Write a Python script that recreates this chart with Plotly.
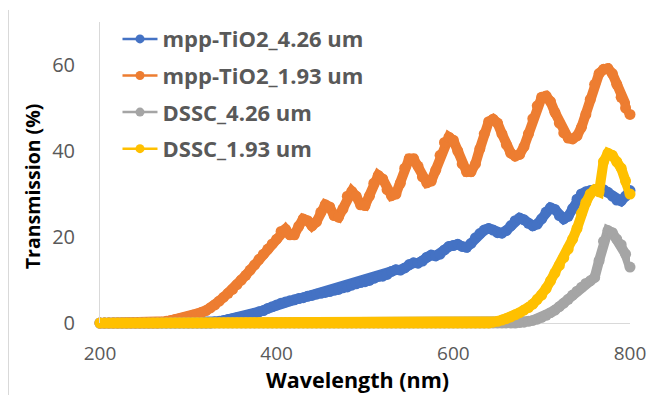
import plotly.graph_objects as go

wavelength = list(range(200, 805, 5))

mpp_tio2_426 = [0.0]*26 + [
    0.3, 0.4, 0.6, 0.8, 1.0, 1.2, 1.4, 1.6, 1.9, 2.2,            # 330-375
    2.6, 2.9, 3.4, 3.8, 4.2, 4.6, 4.9, 5.2, 5.4, 5.7,            # 380-425
    5.9, 6.2, 6.4, 6.7, 6.9, 7.1, 7.3, 7.6, 7.8, 8.2,            # 430-475
    8.4, 8.8, 9.1, 9.4, 9.6, 9.9, 10.4, 10.8, 10.9, 11.3,        # 480-525
    12.0, 12.4, 12.3, 12.8, 13.6, 14.0, 13.9, 14.4, 15.3, 15.8,  # 530-575
    15.6, 16.0, 17.0, 17.8, 18.0, 18.3, 17.8, 17.6, 18.5, 19.8,  # 580-625
    20.8, 21.6, 22.0, 21.6, 21.0, 20.9, 21.5, 22.6, 23.8, 24.4,  # 630-675
    24.0, 23.2, 22.6, 23.0, 24.2, 25.8, 26.8, 26.4, 25.0, 24.2,  # 680-725
    24.8, 26.6, 28.8, 30.0, 30.5, 30.8, 31.0, 31.2, 31.0, 30.4,  # 730-775
    29.5, 28.6, 28.4, 29.5, 30.8,                                # 780-800
]

mpp_tio2_193 = [0.0]*14 + [
    0.2, 0.4, 0.6, 0.8, 1.0, 1.2, 1.5, 1.8, 2.1, 2.5,            # 270-315
    2.9, 3.5, 4.2, 5.1, 6.0, 6.9, 7.8, 8.9, 10.0, 11.1,          # 320-365
    12.3, 13.5, 14.8, 16.0, 17.2, 18.4, 19.5, 21.3, 21.8, 20.5,  # 370-415
    20.5, 22.5, 24.2, 23.8, 22.6, 23.5, 25.8, 27.5, 27.0, 25.0,  # 420-465
    24.6, 26.5, 29.5, 30.6, 29.5, 27.5, 27.3, 29.5, 32.5, 34.3,  # 470-515
    33.5, 31.0, 29.6, 30.0, 32.5, 36.0, 38.2, 38.2, 36.5, 34.0,  # 520-565
    32.6, 33.0, 35.5, 39.0, 42.0, 43.2, 42.5, 40.0, 37.0, 35.2,  # 570-615
    35.2, 37.0, 40.5, 44.0, 46.8, 47.4, 46.5, 44.0, 41.5, 39.5,  # 620-665
    38.8, 39.2, 41.0, 44.0, 47.5, 50.5, 52.5, 52.8, 51.5, 49.0,  # 670-715
    46.5, 44.2, 43.0, 42.8, 43.5, 45.5, 48.5, 52.0, 55.5, 58.0,  # 720-765
    59.0, 59.2, 58.0, 55.5, 52.5, 50.0, 48.5,                    # 770-800
]

dssc_426 = [0.0]*95 + [
    0.1, 0.2, 0.4, 0.6, 0.9, 1.3, 1.8, 2.4, 3.0, 3.8,            # 675-720
    4.6, 5.5, 6.5, 7.4, 8.3, 9.2, 9.8, 10.6, 14.5, 19.0,         # 725-770
    21.5, 21.0, 19.5, 18.2, 16.0, 13.0,                          # 775-800
]

dssc_193 = [0.0]*89 + [
    0.2, 0.4, 0.7, 1.0, 1.4, 1.9, 2.4, 3.0, 3.6, 4.4,            # 645-690
    5.5, 6.5, 8.0, 9.8, 11.6, 13.4, 15.2, 17.2, 19.5, 22.0,      # 695-740
    25.5, 28.0, 30.0, 31.0, 30.5, 37.5, 39.5, 39.0, 37.5, 36.0,  # 745-790
    33.0, 30.0,                                                  # 795-800
]

series = [
    ("mpp-TiO2_4.26 um", mpp_tio2_426, "#4472C4"),
    ("mpp-TiO2_1.93 um", mpp_tio2_193, "#ED7D31"),
    ("DSSC_4.26 um", dssc_426, "#A5A5A5"),
    ("DSSC_1.93 um", dssc_193, "#FFC000"),
]

y_ticks = [0, 20, 40, 60]
x_ticks = [200, 400, 600, 800]

fig = go.Figure()
for i, (name, vals, color) in enumerate(series):
    fig.add_trace(go.Scatter(
        x=wavelength, y=vals, name=name, mode="lines+markers",
        line=dict(color=color, width=10),
        marker=dict(color=color, size=11),
        cliponaxis=False, showlegend=False,
    ))
for i, (name, vals, color) in enumerate(series):
    fig.add_trace(go.Scatter(
        x=[None], y=[None], name=name, mode="lines+markers",
        line=dict(color=color, width=2.5),
        marker=dict(color=color, size=9),
        legendgroup="g%d" % i, showlegend=True,
    ))

# the page body adds an 8px offset; margins compensate for it
fig.update_layout(
    width=665, height=395,
    margin=dict(l=92, r=43, t=14, b=80, autoexpand=False),
    paper_bgcolor="white", plot_bgcolor="white",
    font=dict(family="Open Sans", color="#595959"),
    showlegend=True,
    legend=dict(
        x=0.033, y=1.013, xanchor="left", yanchor="top",
        font=dict(size=22, color="#595959", family="Open Sans", weight="bold"),
        bgcolor="rgba(0,0,0,0)", itemwidth=35, tracegroupgap=5,
    ),
    xaxis=dict(
        range=[200, 800], tickvals=x_ticks, ticktext=[str(v) for v in x_ticks],
        showgrid=False, zeroline=False, showline=False, automargin=False,
        ticks="outside", ticklen=13, tickcolor="rgba(0,0,0,0)",
        tickfont=dict(size=19, color="#595959"),
    ),
    yaxis=dict(
        range=[0, 70], tickvals=y_ticks, ticktext=[str(v) for v in y_ticks],
        showgrid=False, zeroline=True, zerolinecolor="#D9D9D9", zerolinewidth=1,
        showline=True, linecolor="#D9D9D9", linewidth=1, automargin=False,
        ticks="outside", ticklen=20, tickcolor="rgba(0,0,0,0)",
        tickfont=dict(size=20, color="#595959"),
    ),
    annotations=[
        dict(text="<b>Wavelength (nm)</b>", xref="paper", yref="paper",
             x=0.485, y=-0.189, xanchor="center", yanchor="middle", showarrow=False,
             borderpad=0, font=dict(size=21.5, color="black", family="Open Sans")),
        dict(text="<b>Transmission (%)</b>", xref="paper", yref="paper",
             x=-0.128, y=0.455, xanchor="center", yanchor="middle", showarrow=False,
             textangle=-90, font=dict(size=19.5, color="black", family="Open Sans")),
    ],
    shapes=[
        dict(type="line", xref="paper", yref="paper", x0=-0.1726, x1=-0.1726,
             y0=-0.24, y1=1.04, line=dict(color="#D9D9D9", width=1)),
    ],
)

fig.write_html("out.html")
